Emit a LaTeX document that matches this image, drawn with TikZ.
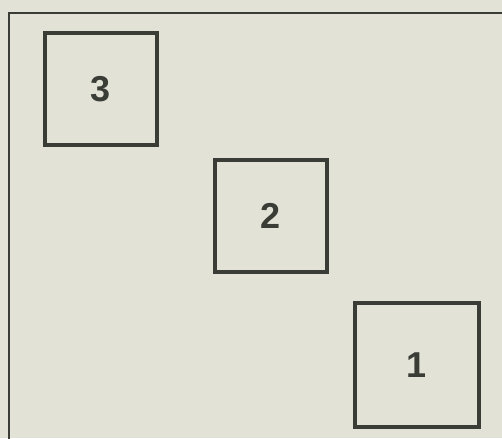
\documentclass[tikz,border=0pt]{standalone}
\usepackage{fontspec}
\setmainfont{Liberation Sans}
\definecolor{paper}{RGB}{226,226,214}
\definecolor{ink}{RGB}{58,60,54}
\begin{document}
\begin{tikzpicture}[x=1pt,y=-1pt,
  box/.style={draw=ink,line width=4.5pt,minimum width=112pt,minimum height=112pt,inner sep=0pt,
    font=\fontsize{36}{36}\selectfont\bfseries,text=ink},
  frame/.style={draw=ink,line width=2pt}]
\fill[paper] (0,0) rectangle (502,438);
\useasboundingbox (0,0) rectangle (502,438);
\coordinate (tr) at (510,13);
\coordinate (tl) at (9,13);
\coordinate (bl) at (9,446);
\draw[frame] (tr) -- (tl) -- (bl);
\node[box] (n3) at (101,89) {3};
\node[box] (n2) at (271,216) {2};
\node[box,minimum width=124pt,minimum height=124pt] (n1) at (417,365) {1};
\end{tikzpicture}
\end{document}
